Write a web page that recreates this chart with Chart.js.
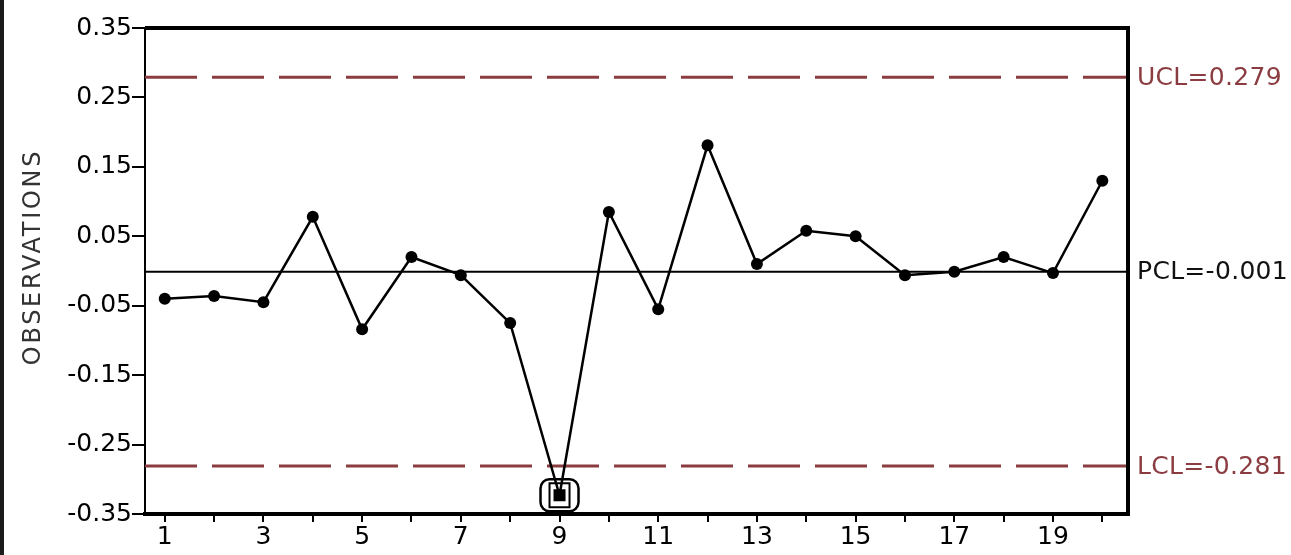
<!DOCTYPE html>
<html>
<head>
<meta charset="utf-8">
<title>Observations control chart</title>
<script src="https://cdn.jsdelivr.net/npm/chart.js@4.4.1/dist/chart.umd.min.js"></script>
<style>
  html, body { margin: 0; padding: 0; background: #fff; }
  #wrap { width: 1291px; height: 555px; }
  canvas { display: block; }
</style>
</head>
<body>
<div id="wrap"><canvas id="chart" width="1291" height="555"></canvas></div>
<script>
// Sample numbers and the individual observations
const samples = [1, 2, 3, 4, 5, 6, 7, 8, 9, 10, 11, 12, 13, 14, 15, 16, 17, 18, 19, 20];
const observations = [-0.040, -0.036, -0.045, 0.078, -0.084, 0.020, -0.006, -0.075, -0.323, 0.085,
                      -0.055, 0.181, 0.010, 0.058, 0.050, -0.006, -0.001, 0.020, -0.003, 0.130];

// Control limits
const limitNames = ['UCL', 'PCL', 'LCL'];
const limitValues = [0.279, -0.001, -0.281];

// Axis ticks
const xTicks = [1, 2, 3, 4, 5, 6, 7, 8, 9, 10, 11, 12, 13, 14, 15, 16, 17, 18, 19, 20];
const yTicks = [-0.35, -0.25, -0.15, -0.05, 0.05, 0.15, 0.25, 0.35];

const X_MIN = 0.6, X_MAX = 20.52;
const UCL = limitValues[0], PCL = limitValues[1], LCL = limitValues[2];
const LIMIT_RED = '#8a3c40';
const FONT = '"DejaVu Sans", sans-serif';

const isOut = v => v > UCL || v < LCL;

const limitLine = (value, color, dash, width) => ({
  data: [{ x: X_MIN, y: value }, { x: X_MAX, y: value }],
  borderColor: color,
  borderWidth: width,
  borderDash: dash,
  pointRadius: 0,
  fill: false,
  order: 2
});

// White page, left margin rule
const backdrop = {
  id: 'backdrop',
  beforeDraw(chart) {
    const ctx = chart.ctx;
    ctx.save();
    ctx.fillStyle = '#fff';
    ctx.fillRect(0, 0, chart.width, chart.height);
    ctx.fillStyle = '#1c1c1c';
    ctx.fillRect(0, 0, 4, chart.height);
    ctx.restore();
  }
};

// Heavy frame on top and right of the plot, limit labels and the axis title
const frame = {
  id: 'frame',
  afterDraw(chart) {
    const { ctx, chartArea: a, scales } = chart;
    ctx.save();
    ctx.strokeStyle = '#000';
    ctx.lineWidth = 4;
    ctx.beginPath();
    ctx.moveTo(a.left, a.top);
    ctx.lineTo(a.right, a.top);
    ctx.lineTo(a.right, a.bottom + 2);
    ctx.stroke();

    ctx.font = '25px ' + FONT;
    ctx.letterSpacing = '0.3px';
    ctx.textBaseline = 'middle';
    ctx.textAlign = 'left';
    limitNames.forEach((name, i) => {
      const v = limitValues[i];
      const txt = name + '=' + v.toFixed(3);
      ctx.fillStyle = name === 'PCL' ? '#111' : LIMIT_RED;
      ctx.fillText(txt, a.right + 9, scales.y.getPixelForValue(v) + 1);
    });

    ctx.translate(34, 257);
    ctx.rotate(-Math.PI / 2);
    ctx.textAlign = 'center';
    ctx.font = '24px ' + FONT;
    ctx.letterSpacing = '2.7px';
    ctx.fillStyle = '#333';
    ctx.fillText('OBSERVATIONS', 0, 0);
    ctx.restore();
  }
};

// Box around any observation outside the control limits
const flagOut = {
  id: 'flagOut',
  afterDatasetsDraw(chart) {
    const ctx = chart.ctx;
    const meta = chart.getDatasetMeta(0);
    ctx.save();
    ctx.strokeStyle = '#000';
    meta.data.forEach((pt, i) => {
      if (!isOut(observations[i])) return;
      ctx.lineWidth = 2.5;
      ctx.beginPath();
      ctx.roundRect(pt.x - 19, pt.y - 16, 38, 32, 9);
      ctx.stroke();
      ctx.lineWidth = 2;
      ctx.strokeRect(pt.x - 10, pt.y - 12, 20, 24);
    });
    ctx.restore();
  }
};

new Chart(document.getElementById('chart'), {
  type: 'line',
  data: {
    datasets: [
      {
        data: samples.map((s, i) => ({ x: s, y: observations[i] })),
        borderColor: '#000',
        borderWidth: 2.5,
        backgroundColor: '#000',
        pointBackgroundColor: '#000',
        pointBorderColor: '#000',
        pointBorderWidth: 0,
        pointStyle: c => isOut(observations[c.dataIndex]) ? 'rect' : 'circle',
        pointRadius: c => isOut(observations[c.dataIndex]) ? 8.5 : 6,
        tension: 0,
        fill: false,
        order: 1
      },
      limitLine(UCL, LIMIT_RED, [52, 15], 3),
      limitLine(PCL, '#000', [], 2),
      limitLine(LCL, LIMIT_RED, [52, 15], 3)
    ]
  },
  options: {
    responsive: false,
    animation: false,
    devicePixelRatio: 1,
    layout: { padding: { top: 28, right: 163, bottom: 0, left: 0 } },
    plugins: {
      legend: { display: false },
      tooltip: { enabled: false },
      title: { display: false }
    },
    scales: {
      x: {
        type: 'linear',
        min: X_MIN,
        max: X_MAX,
        afterBuildTicks: s => { s.ticks = xTicks.map(v => ({ value: v })); },
        afterFit: s => { s.height = 41; },
        ticks: {
          autoSkip: false,
          maxRotation: 0,
          padding: 0,
          color: '#000',
          font: { family: FONT, size: 25 },
          callback: v => (v % 2 === 1 ? String(v) : '')
        },
        grid: { drawOnChartArea: false, drawTicks: true, tickLength: 8, color: '#000', lineWidth: 2 },
        border: { display: true, color: '#000', width: 4 }
      },
      y: {
        type: 'linear',
        min: -0.35,
        max: 0.35,
        afterBuildTicks: s => { s.ticks = yTicks.map(v => ({ value: v })); },
        afterFit: s => { s.width = 145; },
        ticks: {
          padding: 0,
          color: '#000',
          font: { family: FONT, size: 25 },
          callback: v => v.toFixed(2)
        },
        grid: { drawOnChartArea: false, drawTicks: true, tickLength: 13, color: '#000', lineWidth: 2 },
        border: { display: true, color: '#000', width: 2 }
      }
    }
  },
  plugins: [backdrop, frame, flagOut]
});
</script>
</body>
</html>
